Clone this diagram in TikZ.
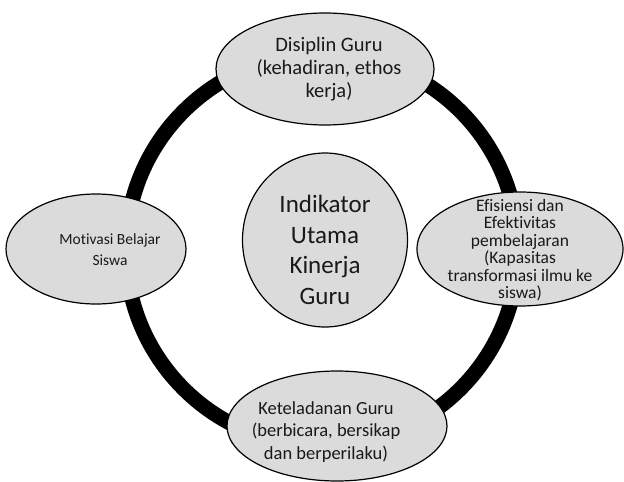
\documentclass[tikz,border=0pt]{standalone}
\usepackage{fontspec}
\setmainfont{Carlito}[Ligatures=NoCommon]
\usepackage{tikz}
\usetikzlibrary{shapes.geometric}
\definecolor{bubblegray}{gray}{0.86}
\tikzset{bubble/.style={ellipse, draw, fill=bubblegray, line width=1.2pt, inner sep=0pt},
         bubbletext/.style={align=center, text=black!90, inner sep=0pt}}

\begin{document}
\begin{tikzpicture}[x=1pt, y=-1pt]
    \path[use as bounding box] (0, 0) rectangle (624, 482);

    % the ring behind the four bubbles
    \coordinate (O) at (322, 250);
    \draw[line width=15pt] (O) circle[radius=196];

    \node[bubble, minimum width=218, minimum height=112] at (325, 69) (disiplin) {};
    \node[bubble, minimum width=180, minimum height=110] at (96, 249) (motivasi) {};
    \node[bubble, minimum width=206, minimum height=114] at (520, 249) (efisiensi) {};
    \node[bubble, minimum width=220, minimum height=110] at (337, 426) (teladan) {};
    \node[bubble, minimum width=165, minimum height=174] at (325, 240) (indikator) {};

    \node[bubbletext, font=\fontsize{20.5}{23}\selectfont] at ([xshift=4pt]disiplin) (disiplin-txt) {Disiplin Guru\\(kehadiran, ethos\\kerja)};
    \node[bubbletext, font=\fontsize{15.5}{21}\selectfont] at ([xshift=14pt,yshift=-1pt]motivasi) (motivasi-txt) {Motivasi Belajar\\Siswa};
    \node[bubbletext, font=\fontsize{17.5}{17.5}\selectfont] at ([yshift=-1pt]efisiensi) (efisiensi-txt) {Efisiensi dan\\Efektivitas\\pembelajaran\\(Kapasitas\\transformasi ilmu ke\\siswa)};
    \node[bubbletext, font=\fontsize{18.5}{22.5}\selectfont] at ([xshift=-11pt,yshift=-6pt]teladan) (teladan-txt) {Keteladanan Guru\\(berbicara, bersikap\\dan berperilaku)};
    \node[bubbletext, font=\fontsize{25}{30.5}\selectfont] at ([yshift=-10pt]indikator) (indikator-txt) {Indikator\\Utama\\Kinerja\\Guru};
\end{tikzpicture}
\end{document}
